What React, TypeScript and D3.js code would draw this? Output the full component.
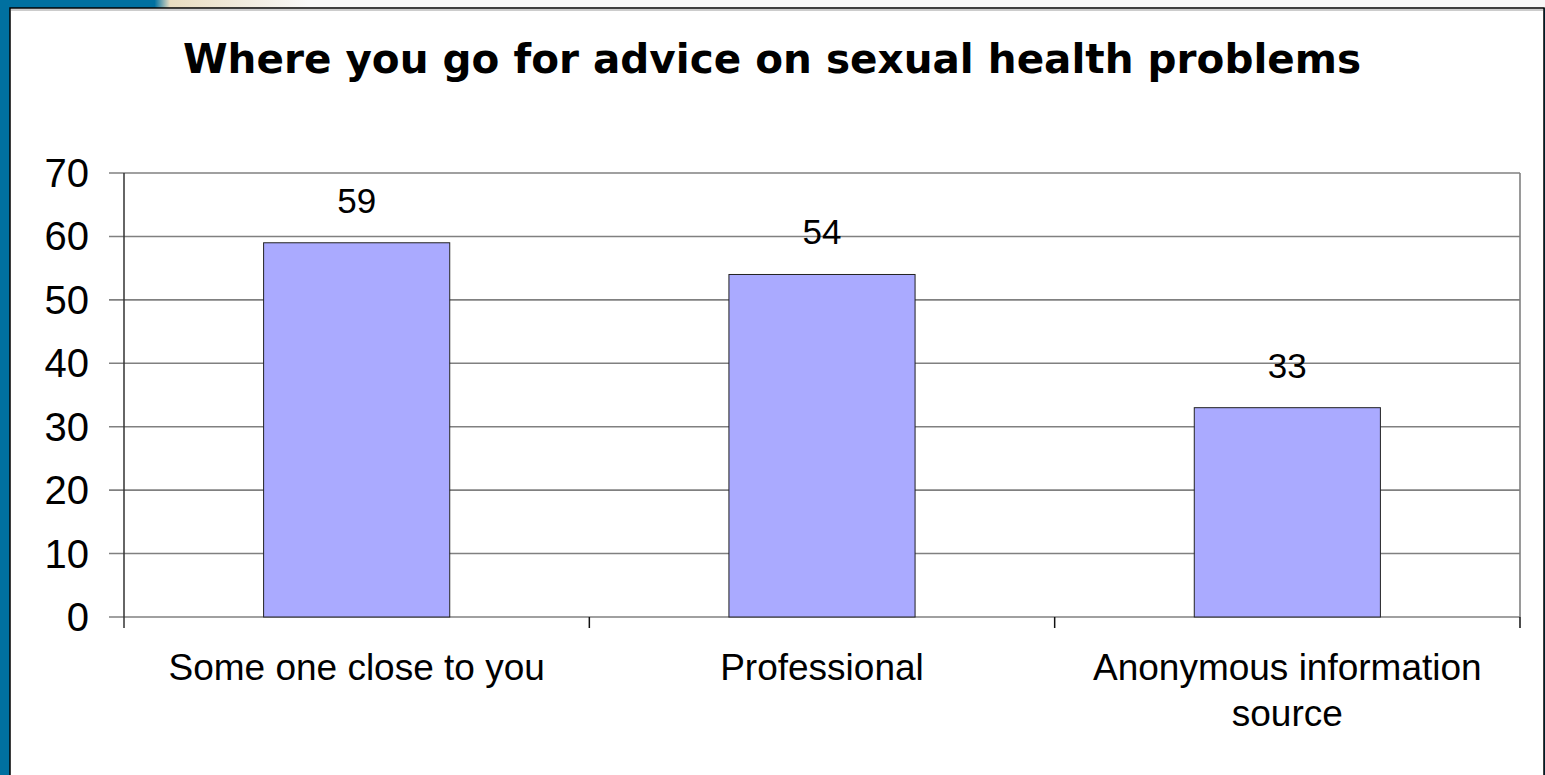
import React from "react";
import * as d3 from "d3";

const categories: string[][] = [
  ["Some one close to you"],
  ["Professional"],
  ["Anonymous information", "source"],
];
const values: number[] = [59, 54, 33];
const yTicks: number[] = [0, 10, 20, 30, 40, 50, 60, 70];
const title = "Where you go for advice on sexual health problems";

const W = 1545;
const H = 775;
const plot = { left: 124, right: 1520, top: 173, bottom: 617 };

export default function App() {
  const x = d3
    .scaleBand<number>()
    .domain(values.map((_, i) => i))
    .range([plot.left, plot.right])
    .paddingInner(0.6)
    .paddingOuter(0.3);
  const y = d3.scaleLinear().domain([0, 70]).range([plot.bottom, plot.top]);
  const cat = d3
    .scaleBand<number>()
    .domain(values.map((_, i) => i))
    .range([plot.left, plot.right]);
  const font = "'Liberation Sans', Arial, sans-serif";
  return (
    <svg
      width={W}
      height={H}
      style={{ position: "absolute", left: 0, top: 0, display: "block" }}
    >
      <defs>
        <linearGradient id="topg" x1="0" x2="1" y1="0" y2="0">
          <stop offset="0" stopColor="#0070a0" />
          <stop offset="0.1" stopColor="#0070a0" />
          <stop offset="0.11" stopColor="#e8dcc0" />
          <stop offset="0.2" stopColor="#f8f8f8" />
          <stop offset="1" stopColor="#f8f8f8" />
        </linearGradient>
      </defs>
      <rect x={0} y={0} width={W} height={H} fill="#0070a0" />
      <rect x={0} y={0} width={W} height={8} fill="url(#topg)" />
      <rect x={0} y={0} width={9} height={H} fill="#0070a0" />
      <rect x={10} y={8} width={W - 11} height={H} fill="#ffffff" stroke="#000" strokeWidth={1.5} />
      <line x1={11} x2={W - 2} y1={10} y2={10} stroke="#999" strokeWidth={1} />

      <text
        x={772}
        y={73}
        textAnchor="middle"
        fontFamily="Verdana, 'DejaVu Sans', sans-serif"
        fontWeight="bold"
        fontSize={40.5}
      >
        {title}
      </text>

      {yTicks.map((t) => (
        <g key={t}>
          <line
            x1={plot.left - 15}
            x2={plot.right}
            y1={y(t)}
            y2={y(t)}
            stroke="#808080"
            strokeWidth={1.6}
          />
          <text
            x={89}
            y={y(t) + 14}
            textAnchor="end"
            fontFamily={font}
            fontSize={40}
          >
            {t}
          </text>
        </g>
      ))}
      <line x1={plot.right} x2={plot.right} y1={plot.top} y2={plot.bottom} stroke="#808080" strokeWidth={1.6} />

      {values.map((v, i) => (
        <g key={i}>
          <rect
            x={x(i)}
            y={y(v)}
            width={x.bandwidth()}
            height={plot.bottom - y(v)}
            fill="#aaaaff"
            stroke="#222"
            strokeWidth={1}
          />
          <text
            x={(x(i) as number) + x.bandwidth() / 2}
            y={y(v) - 30}
            textAnchor="middle"
            fontFamily={font}
            fontSize={35}
          >
            {v}
          </text>
        </g>
      ))}

      <line x1={plot.left} x2={plot.left} y1={plot.top} y2={plot.bottom + 11} stroke="#333" strokeWidth={1.5} />
      {values.map((_, i) => {
        const xe = (cat(i) as number) + cat.bandwidth();
        return <line key={i} x1={xe} x2={xe} y1={plot.bottom} y2={plot.bottom + 11} stroke="#111" strokeWidth={1.5} />;
      })}

      {categories.map((lines, i) => (
        <text
          key={i}
          x={(cat(i) as number) + cat.bandwidth() / 2}
          y={680}
          textAnchor="middle"
          fontFamily={font}
          fontSize={37}
        >
          {lines.map((l, j) => (
            <tspan key={j} x={(cat(i) as number) + cat.bandwidth() / 2} dy={j === 0 ? 0 : 46}>
              {l}
            </tspan>
          ))}
        </text>
      ))}
    </svg>
  );
}
